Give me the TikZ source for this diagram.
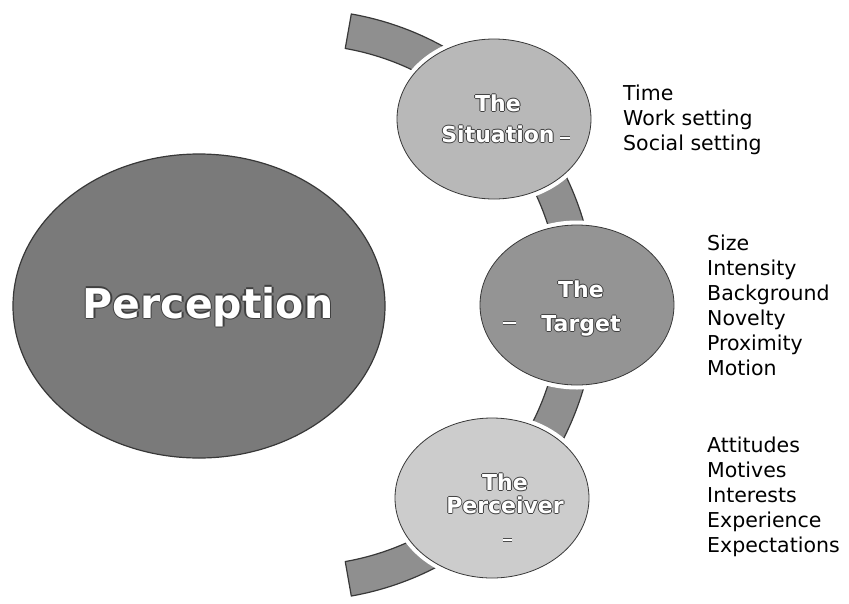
\documentclass[tikz,border=0pt]{standalone}
\usepackage{fontspec}
\setmainfont{DejaVu Sans}
\usetikzlibrary{shapes.geometric}
\definecolor{bandfill}{gray}{0.56}
\definecolor{percfill}{gray}{0.48}
\definecolor{sitfill}{gray}{0.72}
\definecolor{tarfill}{gray}{0.58}
\definecolor{pcvfill}{gray}{0.80}
\definecolor{edgecol}{gray}{0.22}
\newcommand\outl[2][1pt]{{\leavevmode\color{black!75}\rlap{\hspace*{-#1}#2}\rlap{\hspace*{#1}#2}\rlap{\raisebox{#1}{#2}}\rlap{\raisebox{-#1}{#2}}}\textcolor{white}{#2}}
\begin{document}
\begin{tikzpicture}[x=1pt,y=-1pt,
  band/.style={fill=bandfill,draw=edgecol,line width=1.2pt,line join=round},
  bigell/.style={ellipse,fill=percfill,draw=edgecol,line width=1.2pt,minimum width=372,minimum height=304,inner sep=0pt},
  circ/.style={ellipse,draw=edgecol,line width=0.8pt,minimum width=194,minimum height=160,inner sep=0pt,
     preaction={draw=white,line width=9pt}},
  ctext/.style={inner sep=0pt,align=center,font=\bfseries\fontsize{22}{31}\selectfont},
  listtext/.style={inner sep=0pt,align=left,anchor=base west,font=\fontsize{20.5}{25}\selectfont,text=black},
  dashmark/.style={draw=white,line width=2.2pt,preaction={draw=black!70,line width=3.6pt}}
]
\useasboundingbox (0,0) rectangle (849,603);
% arc band
\path[band] ([shift={(300,305)}]-80:295.5) arc[start angle=-80,end angle=80,radius=295.5]
  -- ([shift={(300,305)}]80:260.5) arc[start angle=80,end angle=-80,radius=260.5] -- cycle;
% big ellipse
\node[bigell] (perc) at (199,306) {};
\node[inner sep=0pt,font=\bfseries\fontsize{41}{41}\selectfont] (perctext) at (208,307) {\outl[1.4pt]{Perception}};
% circles
\node[circ,fill=sitfill] (sit) at (494,119) {};
\node[circ,fill=tarfill] (tar) at (577,305) {};
\node[circ,fill=pcvfill] (pcv) at (492,498) {};
% circle texts
\node[ctext] (sittext) at (498,119) {\outl{The}\\\outl{Situation}};
\node[ctext,font=\bfseries\fontsize{22}{34}\selectfont] (tartext) at (581,309) {\outl{The}\\\outl{Target}};
\node[ctext,font=\bfseries\fontsize{22}{23}\selectfont] (pcvtext) at (505,494) {\outl{The}\\\outl{Perceiver}};
% small marks inside circles
\draw[dashmark] (560,138) -- (570,138);
\draw[dashmark] (503,323) -- (516,323);
\draw[dashmark] (503,540) -- (512,540);
% lists (anchor is the baseline of the last line)
\node[listtext] (sitlist) at (623,150) {Time\\Work setting\\Social setting};
\node[listtext] (tarlist) at (707,375) {Size\\Intensity\\Background\\Novelty\\Proximity\\Motion};
\node[listtext] (pcvlist) at (707,552) {Attitudes\\Motives\\Interests\\Experience\\Expectations};
\end{tikzpicture}
\end{document}
